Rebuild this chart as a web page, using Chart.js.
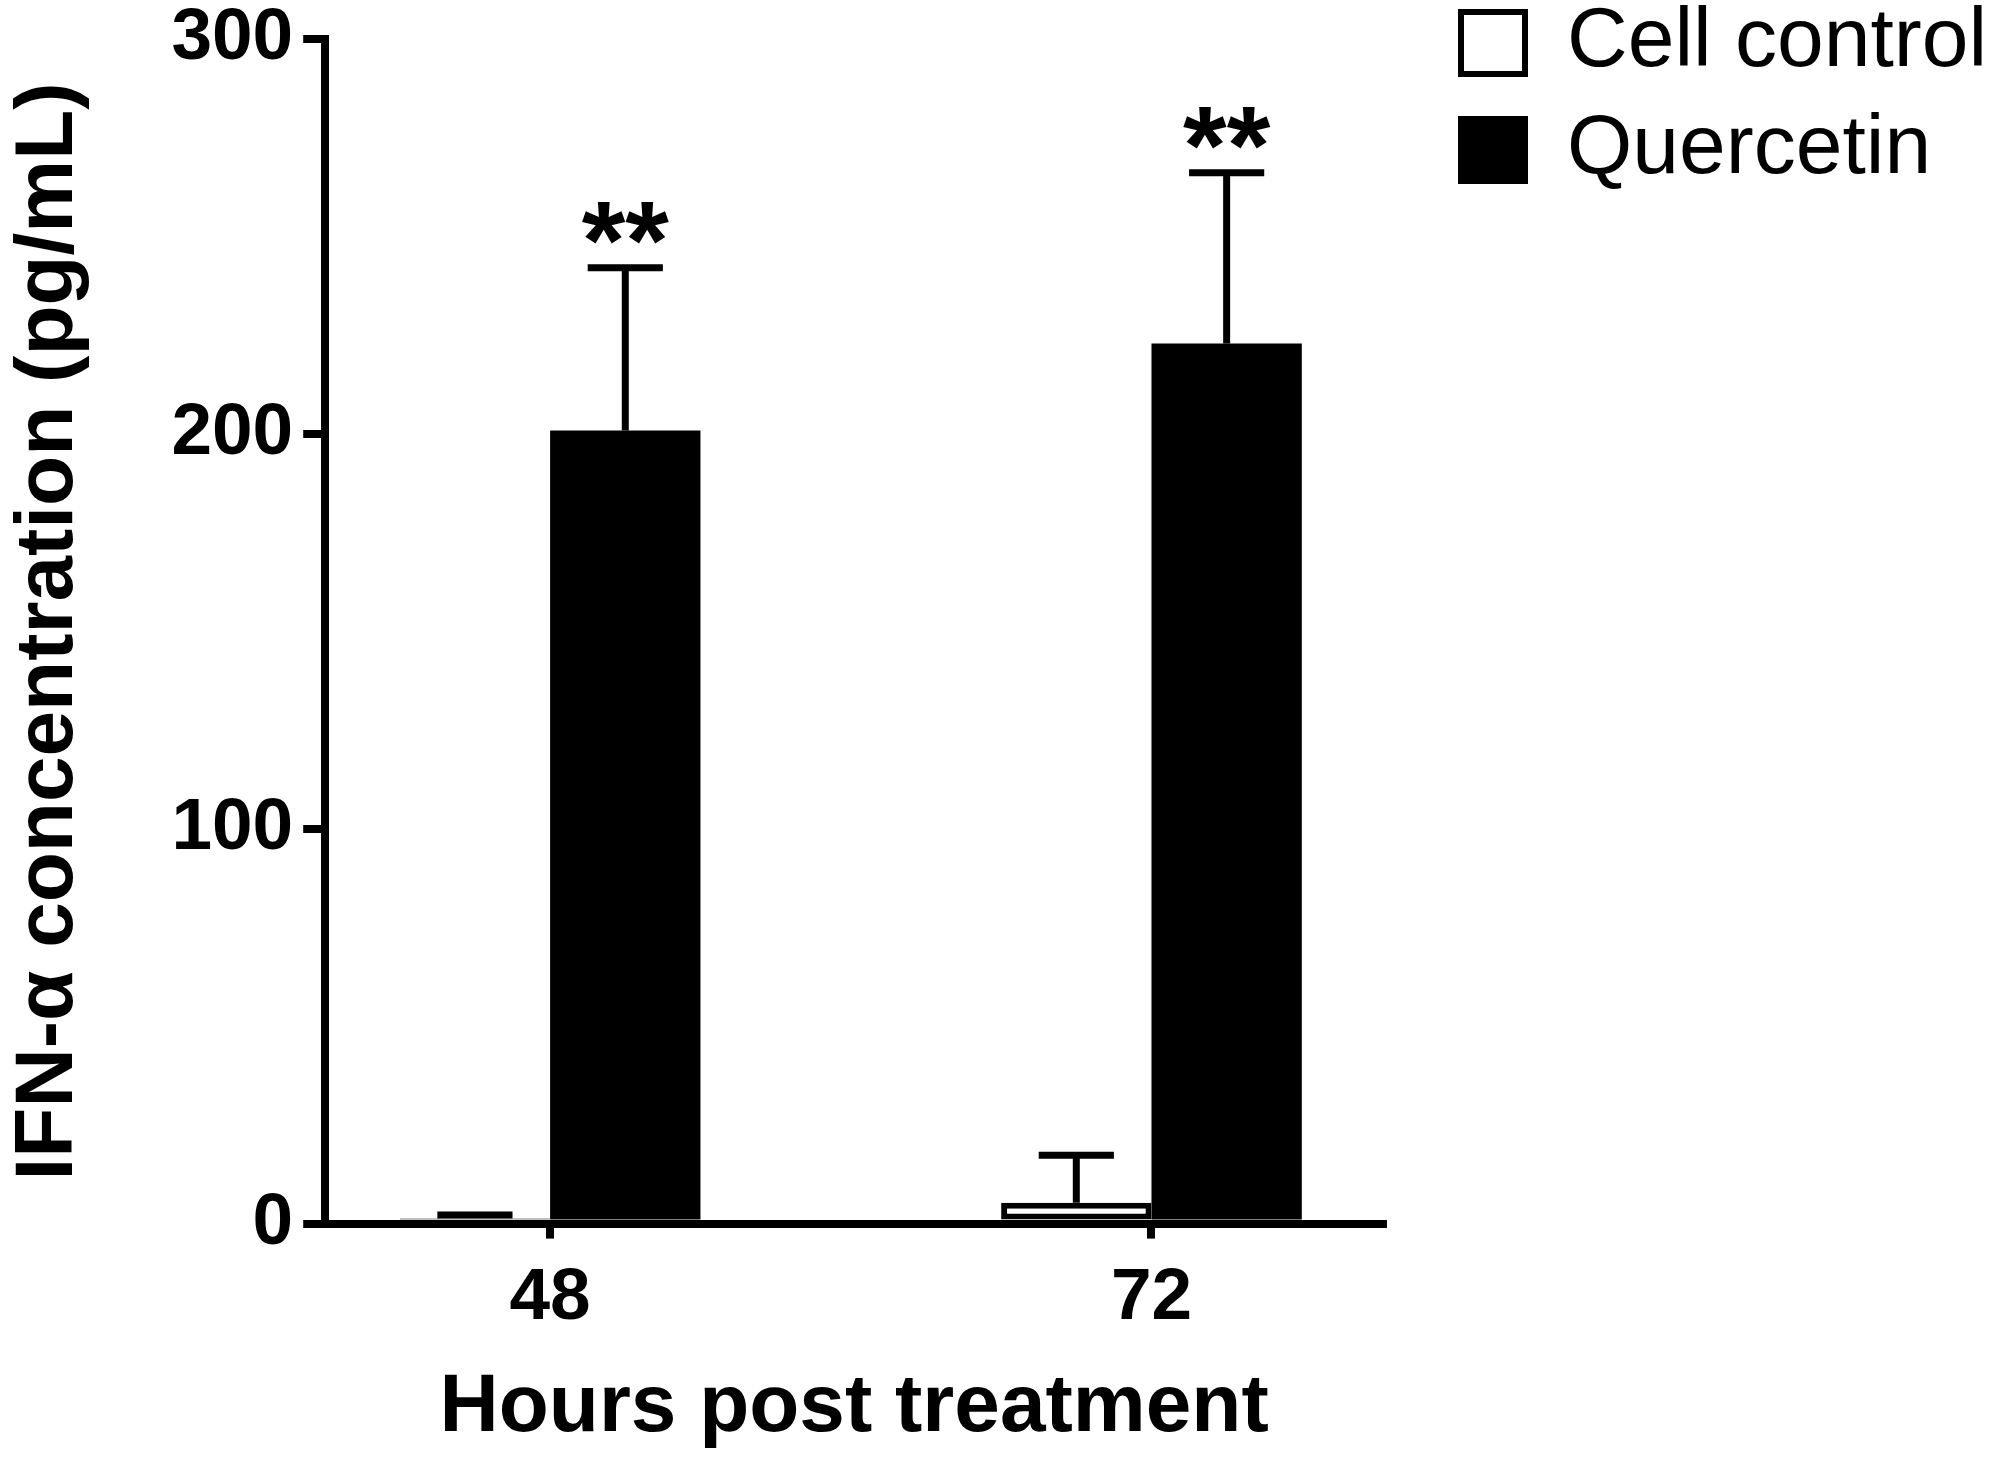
<!DOCTYPE html>
<html>
<head>
<meta charset="utf-8">
<title>IFN-α concentration</title>
<script src="https://cdn.jsdelivr.net/npm/chart.js@4.4.1/dist/chart.umd.min.js"></script>
<style>
    html, body { margin: 0; padding: 0; background: #ffffff; }
    #wrap { width: 1995px; height: 1458px; }
</style>
</head>
<body>
<div id="wrap"><canvas id="ifnChart"></canvas></div>
<script>
// Values
const categories = ['48', '72'];
const cellControl = [1.3, 5.3];
const cellControlSd = [0.9, 12.0];
const quercetin = [200.9, 222.9];
const quercetinSd = [41.2, 43.3];
const quercetinMarks = ['**', '**'];
const yTicks = [0, 100, 200, 300];

const FONT = '"Liberation Sans", Arial, sans-serif';

// Error bars (upward only) plus significance marks
const errorBars = {
    id: 'errorBars',
    afterDatasetsDraw(chart) {
        const ctx = chart.ctx;
        const yScale = chart.scales.y;
        ctx.save();
        ctx.strokeStyle = '#000';
        ctx.fillStyle = '#000';
        ctx.lineWidth = 7;
        chart.data.datasets.forEach((ds, di) => {
            const meta = chart.getDatasetMeta(di);
            meta.data.forEach((bar, i) => {
                const top = yScale.getPixelForValue(ds.data[i].y + ds.errors[i]);
                const half = bar.width / 4;
                ctx.beginPath();
                ctx.moveTo(bar.x, bar.y);
                ctx.lineTo(bar.x, top);
                ctx.moveTo(bar.x - half, top);
                ctx.lineTo(bar.x + half, top);
                ctx.stroke();
                if (ds.marks && ds.marks[i]) {
                    ctx.font = 'bold 112px ' + FONT;
                    ctx.textAlign = 'center';
                    ctx.textBaseline = 'alphabetic';
                    ctx.fillText(ds.marks[i], bar.x, top + 11);
                }
            });
        });
        ctx.restore();
    }
};

// Put the legend in the top right corner like the original
const legendPlacement = {
    id: 'legendPlacement',
    afterLayout(chart) {
        const lg = chart.legend;
        lg.left = 1438;
        lg.right = chart.width;
        lg.width = lg.right - lg.left;
        lg.top = -22;
        lg.bottom = chart.height;
        lg.height = lg.bottom - lg.top;
    }
};

const toPoints = (values) => values.map((v, i) => ({ x: i, y: v }));

new Chart(document.getElementById('ifnChart'), {
    type: 'bar',
    data: {
        datasets: [
            {
                label: 'Cell control',
                data: toPoints(cellControl),
                errors: cellControlSd,
                backgroundColor: '#ffffff',
                borderColor: '#000000',
                borderWidth: 6,
                borderSkipped: false
            },
            {
                label: 'Quercetin',
                data: toPoints(quercetin),
                errors: quercetinSd,
                marks: quercetinMarks,
                backgroundColor: '#000000',
                borderColor: '#000000',
                borderWidth: 0
            }
        ]
    },
    options: {
        responsive: true,
        maintainAspectRatio: false,
        devicePixelRatio: 1,
        animation: false,
        events: [],
        categoryPercentage: 0.5,
        barPercentage: 1,
        layout: { padding: { left: 0, right: 212, top: 0, bottom: 0 } },
        plugins: {
            tooltip: { enabled: false },
            legend: {
                position: 'right',
                align: 'start',
                maxWidth: 400,
                labels: {
                    boxWidth: 64,
                    boxHeight: 62,
                    padding: 23,
                    color: '#000',
                    font: { family: FONT, size: 84 },
                    // same outlined box for both entries
                    generateLabels: (chart) => Chart.defaults.plugins.legend.labels
                        .generateLabels(chart)
                        .map(item => ({ ...item, lineWidth: 6, strokeStyle: '#000' }))
                }
            }
        },
        scales: {
            x: {
                type: 'linear',
                min: -0.374,
                max: 1.385,
                offset: false,
                z: 1,
                afterBuildTicks: (scale) => {
                    scale.ticks = categories.map((_, i) => ({ value: i }));
                },
                ticks: {
                    callback: (value) => categories[value],
                    color: '#000',
                    padding: 24,
                    maxRotation: 0,
                    font: { family: FONT, size: 73, weight: 'bold', lineHeight: 1 }
                },
                grid: {
                    offset: false,
                    drawOnChartArea: false,
                    color: '#000',
                    lineWidth: 8,
                    tickLength: 15
                },
                border: { color: '#000', width: 8 },
                title: {
                    display: true,
                    text: 'Hours post treatment',
                    color: '#000',
                    padding: { top: 0, bottom: 0 },
                    font: { family: FONT, size: 82, weight: 'bold' }
                }
            },
            y: {
                min: 0,
                max: 300,
                z: 1,
                afterBuildTicks: (scale) => {
                    scale.ticks = yTicks.map(v => ({ value: v }));
                },
                ticks: {
                    color: '#000',
                    padding: 10,
                    font: { family: FONT, size: 73, weight: 'bold', lineHeight: 0.8 }
                },
                grid: {
                    drawOnChartArea: false,
                    color: '#000',
                    lineWidth: 8,
                    tickLength: 22
                },
                border: { color: '#000', width: 8 },
                title: {
                    display: true,
                    text: 'IFN-α concentration (pg/mL)',
                    color: '#000',
                    padding: { top: 0, bottom: 63 },
                    font: { family: FONT, size: 82, weight: 'bold' }
                }
            }
        }
    },
    plugins: [errorBars, legendPlacement]
});
</script>
</body>
</html>
